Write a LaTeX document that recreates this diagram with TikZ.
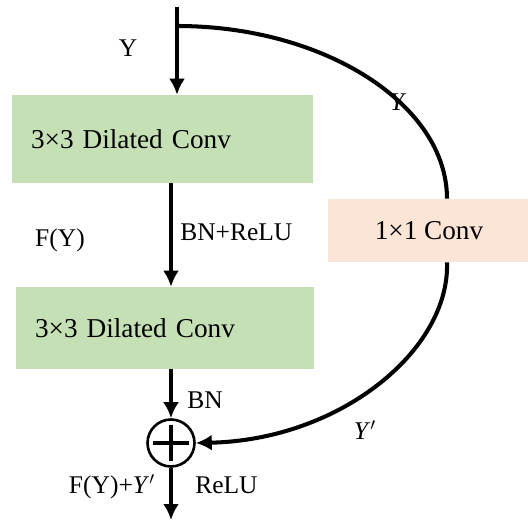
\documentclass[tikz,border=0pt]{standalone}
\usepackage{fontspec}
\setmainfont{Liberation Serif}
\usetikzlibrary{arrows.meta,positioning,calc}
\definecolor{ConvGreen}{HTML}{C5E0B4}
\definecolor{ConvPeach}{HTML}{FBE5D6}

\begin{document}
\begin{tikzpicture}[x=0.02cm, y=-0.02cm, every node/.style={font=\fontsize{14.5}{17}\selectfont, inner sep=0pt}, convbox/.style={fill=ConvGreen, align=left, inner xsep=0.38cm, font=\fontsize{15.5}{18}\selectfont}, flow/.style={-{Latex[length=0.32cm,width=0.32cm]}, line width=2.6pt}]
\clip (0,0) rectangle (528,521);
\node[convbox, text width=5.26cm, minimum height=1.76cm] (dil1) at (162.5,139) {3×3 Dilated Conv};
\node[convbox, text width=5.2cm, minimum height=1.64cm] (dil2) at (165,328) {3×3 Dilated Conv};
\node[fill=ConvPeach, minimum width=4.04cm, minimum height=1.26cm, font=\fontsize{15.5}{18}\selectfont] (pw) at (429,230.5) {1×1 Conv};
\node[circle, draw, line width=1.5pt, minimum size=0.94cm] (sum) at (171,443) {};
\draw[line width=2.2pt] ($(sum)+(-18,0)$) -- ($(sum)+(18,0)$);
\draw[line width=2.2pt] ($(sum)+(0,-18)$) -- ($(sum)+(0,18)$);
\coordinate (entry) at (177,7);
\coordinate (split) at (177,26);
\coordinate (exit) at (171,520);
\draw[flow] (entry) -- (entry |- dil1.north);
\draw[flow] (dil1.south -| sum) -- (dil2.north -| sum);
\draw[flow] (dil2.south -| sum) -- (sum.north);
\draw[flow] (sum.south) -- (sum.south |- exit);
\draw[line width=2.3pt] (split) .. controls (325,26) and (447,105) .. ([xshift=0.36cm]pw.north);
\draw[flow, line width=2.3pt] ([xshift=0.36cm]pw.south) .. controls (450,350) and (340,440) .. (sum.east);
\node (inY) at (128,48) {Y};
\node (skipY) at (397,102) {\itshape Y};
\node (fy) at (60,240) {F(Y)};
\node[anchor=west] (bnrelu) at (180,232) {BN+ReLU};
\node[anchor=west] (bn) at (187,400) {BN};
\node (yprime) at (365,430) {\textit{Y}$'$};
\node (sumlab) at (112,487) {F(Y)+\textit{Y}$'$};
\node[anchor=west] (relu) at (195,485) {ReLU};
\end{tikzpicture}
\end{document}
